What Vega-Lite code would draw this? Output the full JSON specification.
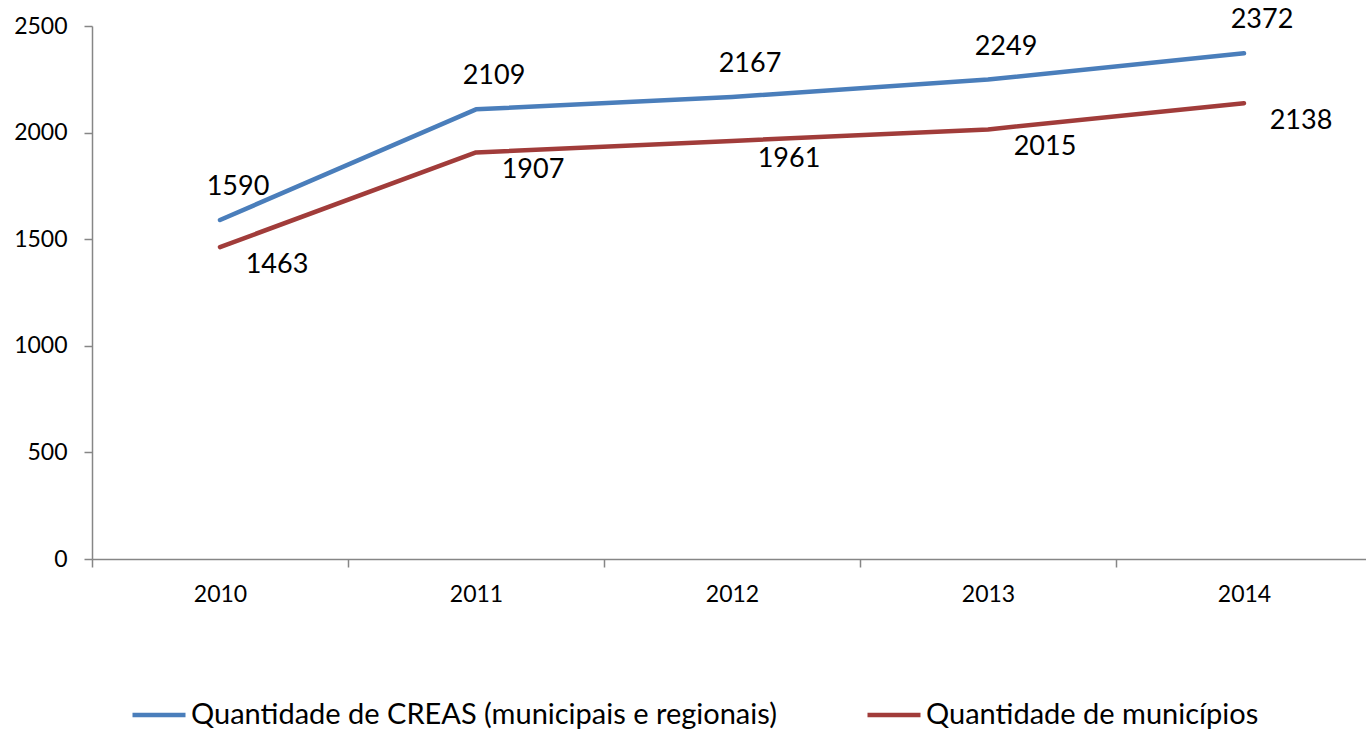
{
  "$schema": "https://vega.github.io/schema/vega-lite/v6.json",
  "width": 1274,
  "height": 533,
  "autosize": {"type": "none"},
  "padding": {"left": 92, "top": 26, "right": 0, "bottom": 172},
  "background": "white",
  "config": {
    "view": {"stroke": null},
    "font": "Lato",
    "axis": {"labelFontSize": 23, "labelColor": "#000000", "domainColor": "#868686", "tickColor": "#868686", "domainWidth": 1.5, "tickWidth": 1.5, "tickSize": 8, "grid": false, "title": null},
    "axisX": {"labelPadding": 16, "labelAngle": 0},
    "axisY": {"labelPadding": 17, "format": "d"}
  },
  "data": {"values": [
    {"ano": "2010", "serie": "Quantidade de CREAS (municipais e regionais)", "valor": 1590},
    {"ano": "2011", "serie": "Quantidade de CREAS (municipais e regionais)", "valor": 2109},
    {"ano": "2012", "serie": "Quantidade de CREAS (municipais e regionais)", "valor": 2167},
    {"ano": "2013", "serie": "Quantidade de CREAS (municipais e regionais)", "valor": 2249},
    {"ano": "2014", "serie": "Quantidade de CREAS (municipais e regionais)", "valor": 2372},
    {"ano": "2010", "serie": "Quantidade de municípios", "valor": 1463},
    {"ano": "2011", "serie": "Quantidade de municípios", "valor": 1907},
    {"ano": "2012", "serie": "Quantidade de municípios", "valor": 1961},
    {"ano": "2013", "serie": "Quantidade de municípios", "valor": 2015},
    {"ano": "2014", "serie": "Quantidade de municípios", "valor": 2138}
  ]},
  "encoding": {
    "x": {
      "field": "ano", "type": "ordinal",
      "scale": {"type": "band", "paddingInner": 0, "paddingOuter": 0, "range": [0, 1280]},
      "axis": {"tickBand": "extent", "labelAngle": 0, "tickSize": 8, "labelFontSize": 23}
    },
    "y": {
      "field": "valor", "type": "quantitative",
      "scale": {"domain": [0, 2500], "nice": false},
      "axis": {"values": [0, 500, 1000, 1500, 2000, 2500], "format": "d", "tickSize": 8, "labelFontSize": 23}
    }
  },
  "layer": [
    {
      "mark": {"type": "line", "strokeWidth": 4.5, "strokeCap": "round", "strokeJoin": "round"},
      "encoding": {
        "color": {
          "field": "serie", "type": "nominal",
          "scale": {"domain": ["Quantidade de CREAS (municipais e regionais)", "Quantidade de municípios"], "range": ["#4A7EBB", "#A13C3A"]},
          "legend": {"title": null, "orient": "none", "legendX": 38, "legendY": 660, "direction": "horizontal", "columnPadding": 81, "symbolType": "stroke", "symbolSize": 2809, "symbolStrokeWidth": 4.5, "labelFontSize": 29, "labelColor": "#000000", "labelOffset": 3, "labelLimit": 1000, "padding": 0}
        }
      }
    },
    {
      "transform": [{"filter": "datum.serie == 'Quantidade de CREAS (municipais e regionais)'"}],
      "mark": {"type": "text", "dx": 18, "dy": -33, "fontSize": 27, "color": "#000000", "align": "center", "baseline": "middle"},
      "encoding": {"text": {"field": "valor", "type": "quantitative", "format": "d"}}
    },
    {
      "transform": [{"filter": "datum.serie == 'Quantidade de municípios'"}],
      "mark": {"type": "text", "dx": 57, "dy": 18, "fontSize": 27, "color": "#000000", "align": "center", "baseline": "middle"},
      "encoding": {"text": {"field": "valor", "type": "quantitative", "format": "d"}}
    }
  ]
}
